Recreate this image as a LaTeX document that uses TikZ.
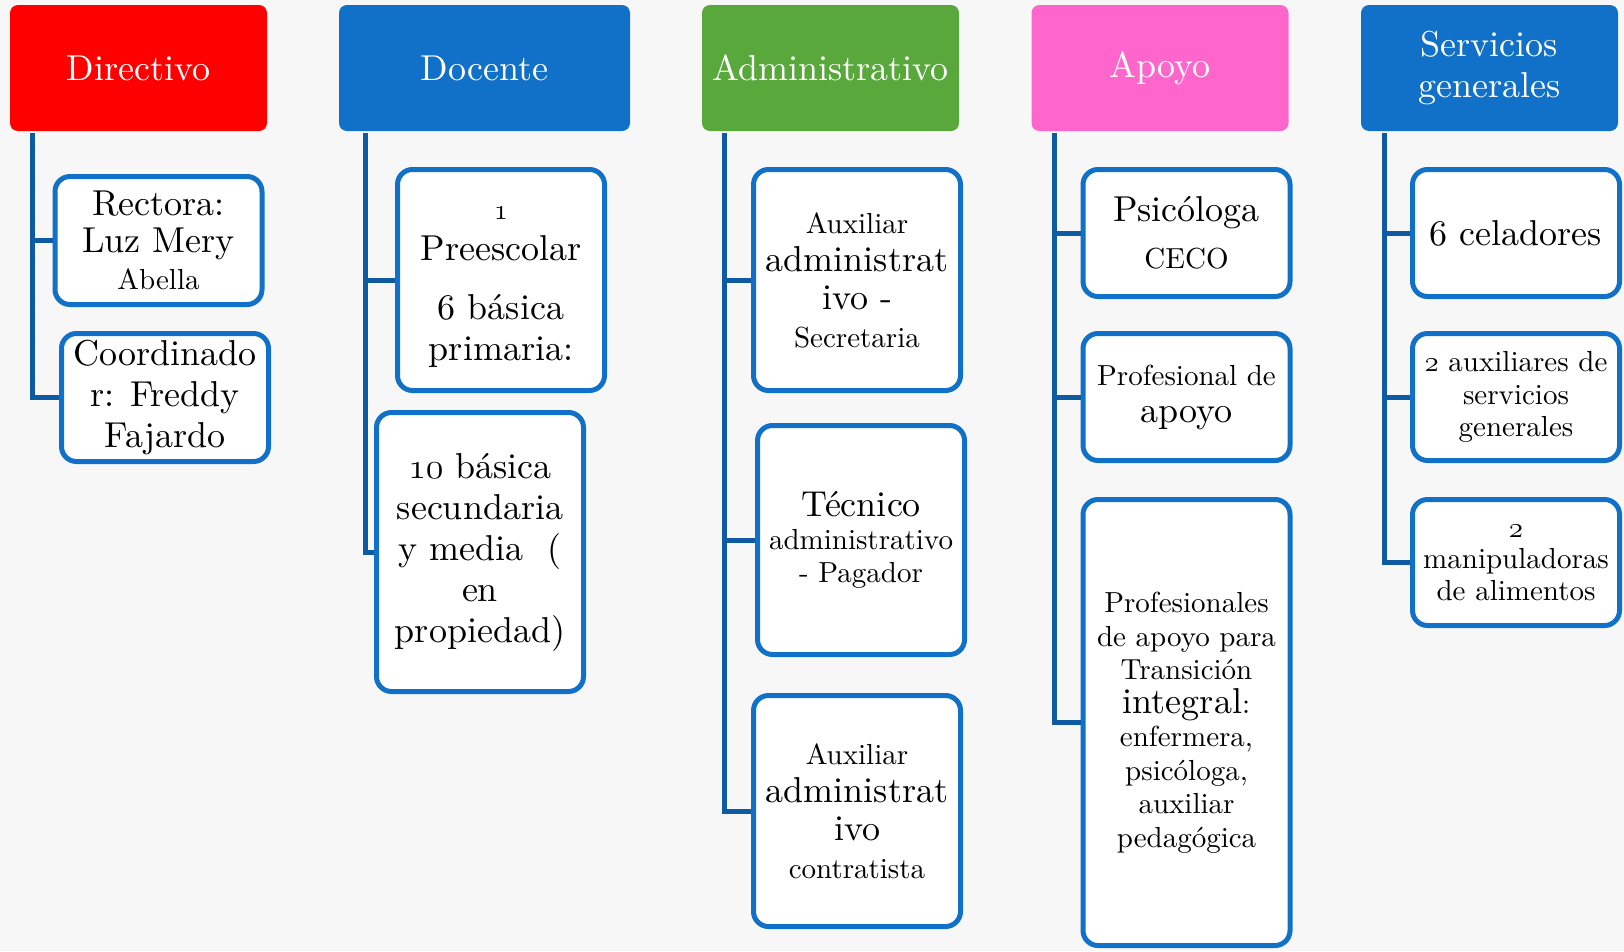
\RequirePackage{fix-cm}
\documentclass[tikz,border=0pt]{standalone}
\usepackage{fontspec}
\setmainfont{lmroman10-regular.otf}
\usepackage{tikz}

\definecolor{rojo}{HTML}{FF0000}
\definecolor{azul}{HTML}{1170C7}
\definecolor{verde}{HTML}{59A83B}
\definecolor{rosa}{HTML}{FF66CC}
\definecolor{linea}{HTML}{0F5BA3}
\definecolor{fondo}{HTML}{F7F7F7}

\newcommand{\grande}[1]{{\fontsize{36}{41}\selectfont #1}}
\newcommand{\viejo}[1]{{\fontencoding{OML}\fontfamily{cmm}\fontseries{m}\fontshape{it}\selectfont #1}}

\begin{document}
\begin{tikzpicture}[x=1pt, y=-1pt,
    cabeza/.style={rounded corners=8pt, text=white, minimum width=257pt, minimum height=126pt,
        inner sep=0pt, align=center, font=\fontsize{36}{41}\selectfont},
    caja/.style={draw=azul, line width=5pt, fill=white, rounded corners=15pt, minimum width=207pt,
        inner sep=3pt, align=center, font=\fontsize{29}{37}\selectfont},
    rama/.style={draw=linea, line width=5pt}]
    \fill[fondo] (0,0) rectangle (1624,951);
    \useasboundingbox (0,0) rectangle (1624,951);

    % cabezas
    \node[cabeza, fill=rojo] (dir) at (138.5,68) {Directivo};
    \node[cabeza, fill=azul, minimum width=291pt] (doc) at (484.5,68) {Docente};
    \node[cabeza, fill=verde] (adm) at (830.5,68) {Administrativo};
    \node[cabeza, fill=rosa] (apo) at (1160,68) {Apoyo};
    \node[cabeza, fill=azul] (ser) at (1489.5,68) {Servicios\\generales};

    % ramas
    \coordinate (dirbase) at ([xshift=23pt,yshift=-2pt]dir.south west);
    \coordinate (docbase) at ([xshift=27pt,yshift=-2pt]doc.south west);
    \coordinate (admbase) at ([xshift=23pt,yshift=-2pt]adm.south west);
    \coordinate (apobase) at ([xshift=23pt,yshift=-2pt]apo.south west);
    \coordinate (serbase) at ([xshift=24pt,yshift=-2pt]ser.south west);

    % directivo
    \node[caja, minimum height=128pt] (rec) at (158.5,240.5) {\grande{Rectora:}\\\grande{Luz Mery}\\Abella};
    \node[caja, minimum height=128pt, font=\fontsize{36}{41}\selectfont] (coo) at (165,397.5) {Coordinado\\r: Freddy\\Fajardo};
    \draw[rama] (dirbase) |- (rec.west);
    \draw[rama] (dirbase) |- (coo.west);

    % docente
    \node[caja, minimum height=221pt, font=\fontsize{29}{41}\selectfont] (pre) at (501,280) {\rule{0pt}{27pt}\viejo{1}\\\grande{Preescolar}\\[18pt]\grande{6 básica}\\\grande{primaria:}};
    \node[caja, minimum height=279pt, font=\fontsize{36}{41}\selectfont] (sec) at (480,552) {\viejo{10} básica\\secundaria\\y media~~(\\en\\propiedad)};
    \draw[rama] (docbase) |- (pre.west);
    \draw[rama] (docbase) |- (sec.west);

    % administrativo
    \node[caja, minimum height=221pt, font=\fontsize{29}{38}\selectfont] (aux1) at (857,280) {Auxiliar\\\grande{administrat}\\\grande{ivo -}\\Secretaria};
    \node[caja, minimum height=229pt, font=\fontsize{29}{33}\selectfont] (tec) at (861,540) {\grande{Técnico}\\administrativo\\- Pagador};
    \node[caja, minimum height=231pt, font=\fontsize{29}{38}\selectfont] (aux2) at (857,811) {Auxiliar\\\grande{administrat}\\\grande{ivo}\\contratista};
    \draw[rama] (admbase) |- (aux1.west);
    \draw[rama] (admbase) |- (tec.west);
    \draw[rama] (admbase) |- (aux2.west);

    % apoyo
    \node[caja, minimum height=127pt] (psi) at (1186.5,233) {\grande{Psicóloga}\\[10pt]CECO};
    \node[caja, minimum height=127pt] (pro) at (1186.5,397) {Profesional de\\\grande{apoyo}};
    \node[caja, minimum height=446pt, font=\fontsize{29}{33.5}\selectfont] (tra) at (1186.5,722.5) {Profesionales\\de apoyo para\\Transición\\\grande{integral}:\\enfermera,\\psicóloga,\\auxiliar\\pedagógica};
    \draw[rama] (apobase) |- (psi.west);
    \draw[rama] (apobase) |- (pro.west);
    \draw[rama] (apobase) |- (tra.west);

    % servicios generales
    \node[caja, minimum height=127pt] (cel) at (1516,233) {\grande{6 celadores}};
    \node[caja, minimum height=127pt, font=\fontsize{29}{32.5}\selectfont] (aux3) at (1516,397) {\viejo{2} auxiliares de\\servicios\\generales};
    \node[caja, minimum height=126pt, font=\fontsize{29}{31.5}\selectfont] (man) at (1516,562.5) {\viejo{2}\\manipuladoras\\de alimentos};
    \draw[rama] (serbase) |- (cel.west);
    \draw[rama] (serbase) |- (aux3.west);
    \draw[rama] (serbase) |- (man.west);
\end{tikzpicture}
\end{document}
